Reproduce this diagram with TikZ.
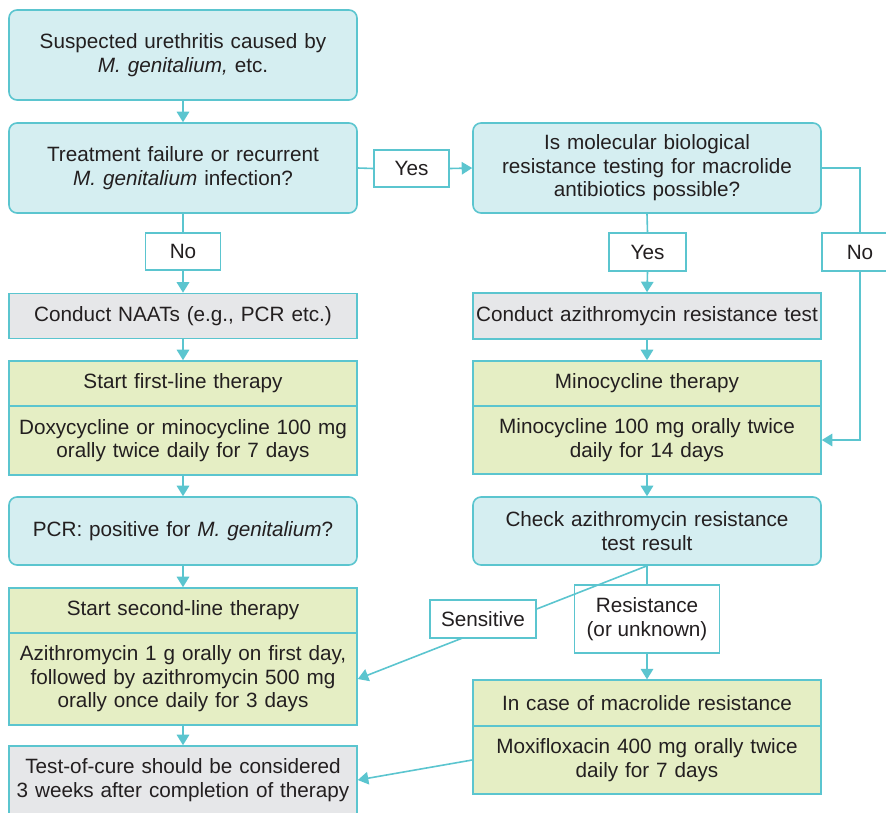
\documentclass[tikz,border=0pt]{standalone}
\usepackage{fontspec}
\setmainfont{Liberation Sans}
\usetikzlibrary{arrows.meta}
\definecolor{bord}{HTML}{5BC5CF}
\definecolor{bluef}{HTML}{D5EEF1}
\definecolor{greenf}{HTML}{E5EEC4}
\definecolor{grayf}{HTML}{E6E7E9}
\definecolor{txt}{HTML}{231F20}
\begin{document}
\begin{tikzpicture}[x=1pt,y=-1pt,
  every node/.style={text=txt,font=\fontsize{20.7}{23.5}\selectfont},
  box/.style={draw=bord,line width=1.6pt,text width=340pt,inner xsep=4pt,inner ysep=0pt,align=center,minimum height=#1},
  bluebox/.style={box=#1,fill=bluef,rounded corners=8pt},
  greenbox/.style={box=#1,fill=greenf},
  graybox/.style={box=#1,fill=grayf},
  lab/.style={draw=bord,line width=1.6pt,fill=white,inner sep=0pt,align=center},
  conn/.style={draw=bord,line width=1.6pt},
  arr/.style={conn,-{Triangle[width=12.5pt,length=10.5pt]}}
]
\useasboundingbox (0,0) rectangle (886,812);
% left column
\node[bluebox=90pt] (s1) at (183,55) {Suspected urethritis caused by\\\textit{M. genitalium,} etc.};
\node[bluebox=90pt] (s2) at (183,168) {Treatment failure or recurrent\\\textit{M. genitalium} infection?};
\node[graybox=45pt] (naat) at (183,316) {Conduct NAATs (e.g., PCR etc.)};
\node[greenbox=45pt] (flh) at (183,383.5) {Start first-line therapy};
\node[greenbox=69pt] (flb) at (183,440.5) {Doxycycline or minocycline 100 mg\\orally twice daily for 7 days};
\node[bluebox=68pt] (pcr) at (183,531) {PCR: positive for \textit{M. genitalium}?};
\node[greenbox=45pt] (slh) at (183,610.5) {Start second-line therapy};
\node[greenbox=91.5pt] (slb) at (183,679) {Azithromycin 1 g orally on first day,\\followed by azithromycin 500 mg\\orally once daily for 3 days};
\node[graybox=68pt] (toc) at (183,780) {Test-of-cure should be considered\\3 weeks after completion of therapy};
% right column
\node[bluebox=90pt] (q3) at (647,168) {Is molecular biological\\resistance testing for macrolide\\antibiotics possible?};
\node[graybox=46pt,text width=346pt,inner xsep=1pt] (azt) at (647,316) {Conduct azithromycin resistance test};
\node[greenbox=45pt] (mh) at (647,383.5) {Minocycline therapy};
\node[greenbox=68pt] (mb) at (647,440) {Minocycline 100 mg orally twice\\daily for 14 days};
\node[bluebox=68pt] (chk) at (647,531) {Check azithromycin resistance\\test result};
\node[greenbox=45.6pt] (mch) at (647,703) {In case of macrolide resistance};
\node[greenbox=68.4pt] (mcb) at (647,760) {Moxifloxacin 400 mg orally twice\\daily for 7 days};
% labels
\node[lab,minimum width=75pt,minimum height=37pt] (yes1) at (411.5,168.5) {Yes};
\node[lab,minimum width=75pt,minimum height=37pt] (no1) at (183,251.5) {No};
\node[lab,minimum width=77pt,minimum height=38pt] (yes2) at (647.5,252) {Yes};
\node[lab,minimum width=76pt,minimum height=38pt] (no2) at (860,252) {No};
\node[lab,minimum width=145pt,minimum height=68pt] (res) at (647,619) {Resistance\\(or unknown)};
% connectors
\draw[arr] (s1.south) -- (s2.north);
\draw[conn] (s2.east) -- (yes1.west);
\draw[arr] (yes1.east) -- (q3.west);
\draw[conn] (s2.south) -- (no1.north);
\draw[arr] (no1.south) -- (naat.north);
\draw[arr] (naat.south) -- (flh.north);
\draw[arr] (flb.south) -- (pcr.north);
\draw[arr] (pcr.south) -- (slh.north);
\draw[arr] (slb.south) -- (toc.north);
\draw[conn] (q3.south) -- (yes2.north);
\draw[arr] (yes2.south) -- (azt.north);
\draw[conn] (q3.east) -| (no2.north);
\draw[arr] (no2.south) |- (mb.east);
\draw[arr] (azt.south) -- (mh.north);
\draw[arr] (mb.south) -- (chk.north);
\draw[conn] (chk.south) -- (res.north);
\draw[arr] (res.south) -- (mch.north);
\draw[arr] (chk.south) -- (slb.east);
\node[lab,minimum width=106pt,minimum height=38pt] (sens) at (483,619) {Sensitive};
\draw[arr] (mcb.west) -- (toc.east);
\end{tikzpicture}
\end{document}
